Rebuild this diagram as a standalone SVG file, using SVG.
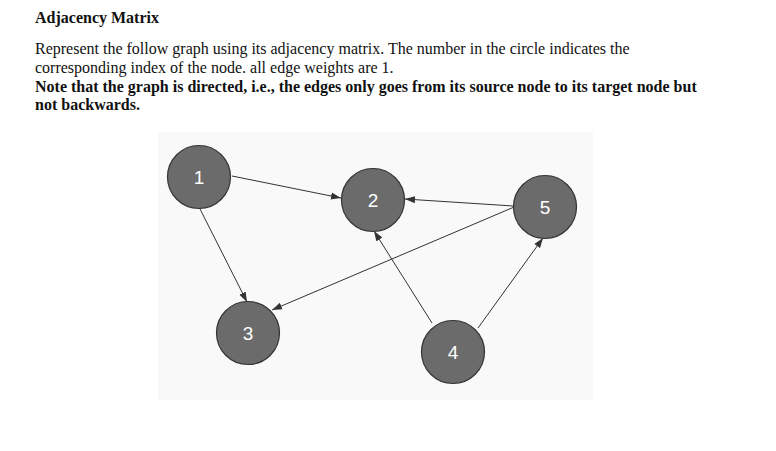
<svg xmlns="http://www.w3.org/2000/svg" width="776" height="451" viewBox="0 0 776 451">
<style>
.t{font-family:"Liberation Serif","Times New Roman",serif;font-size:16px;fill:#111}
.b{font-weight:bold}
.node circle{fill:#6b6b6b;stroke:#333;stroke-width:1.2}
.node text{font-family:"Liberation Sans",Arial,sans-serif;font-size:19px;fill:#fff;text-anchor:middle;dominant-baseline:central}
.edges line{stroke:#333;stroke-width:1}
</style>
<defs>
<marker id="arr" markerWidth="10" markerHeight="8" refX="10" refY="4" orient="auto" markerUnits="userSpaceOnUse">
<path d="M0,0.5 L10,4 L0,7.5 z" fill="#333"/>
</marker>
</defs>
<rect width="776" height="451" fill="#fff"/>
<text class="t b" x="35" y="23">Adjacency Matrix</text>
<text class="t" x="35" y="54">Represent the follow graph using its adjacency matrix. The number in the circle indicates the</text>
<text class="t" x="35" y="73">corresponding index of the node. all edge weights are 1.</text>
<text class="t b" x="35" y="92">Note that the graph is directed, i.e., the edges only goes from its source node to its target node but</text>
<text class="t b" x="35" y="110">not backwards.</text>
<rect x="158" y="132" width="435" height="268" fill="#f9f9f9"/>
<g id="edges" class="edges">
<line x1="232" y1="176" x2="341" y2="198" marker-end="url(#arr)"/>
<line x1="199" y1="207" x2="247" y2="302" marker-end="url(#arr)"/>
<line x1="513" y1="206" x2="405" y2="199" marker-end="url(#arr)"/>
<line x1="513" y1="207.5" x2="272" y2="310" marker-end="url(#arr)"/>
<line x1="432" y1="323" x2="374" y2="231" marker-end="url(#arr)"/>
<line x1="478" y1="328" x2="543" y2="238" marker-end="url(#arr)"/>
</g>
<g id="node1" class="node"><circle cx="199" cy="177" r="31.5"/><text x="199" y="177">1</text></g>
<g id="node2" class="node"><circle cx="373" cy="200" r="31.5"/><text x="373" y="200">2</text></g>
<g id="node3" class="node"><circle cx="248" cy="333" r="31.5"/><text x="248" y="333">3</text></g>
<g id="node4" class="node"><circle cx="453" cy="352" r="31.5"/><text x="453" y="352">4</text></g>
<g id="node5" class="node"><circle cx="545" cy="207" r="31.5"/><text x="545" y="207">5</text></g>
</svg>
